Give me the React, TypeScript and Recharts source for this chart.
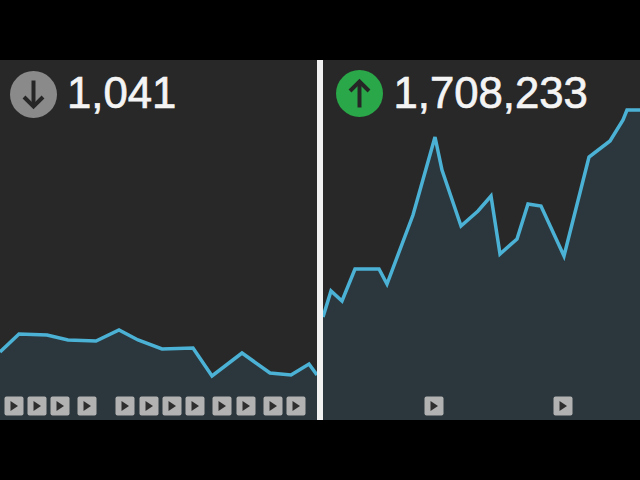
import React from "react";
import { ComposedChart, Area, Scatter, XAxis, YAxis } from "recharts";

const leftDays = [0, 19, 47, 68, 96, 119, 138, 162, 193, 212, 242, 270, 291, 309, 317];
const leftViews = [68, 86, 85, 80, 79, 90, 80, 71, 72, 44, 67, 47, 45, 56, 45];
const leftVideoDays = [14, 37, 60, 87, 125, 149, 172, 195, 222, 246, 273, 296];

const rightDays = [323, 331, 342, 355, 379, 387, 413, 435, 442, 461, 478, 491, 500, 517, 528, 541, 564, 589, 610, 623, 627, 640];
const rightViews = [103, 129, 119, 151, 151, 136, 205, 283, 250, 194, 209, 224, 166, 181, 216, 214, 164, 263, 279, 300, 310, 310];
const rightVideoDays = [434, 563];

const leftTotal = "1,041";
const rightTotal = "1,708,233";

const toRows = (xs: number[], ys: number[]) => xs.map((x, i) => ({ x, y: ys[i] }));
const toVideos = (xs: number[]) => xs.map((x) => ({ x, y: 14 }));

const PlayButton = (props: any) => {
  const { cx, cy } = props;
  return (
    <g>
      <rect x={cx - 9.5} y={cy - 9.5} width={19} height={19} rx={2} fill="#b2b2b2" />
      <path d={`M${cx - 3.5} ${cy - 5}L${cx + 4} ${cy}L${cx - 3.5} ${cy + 5}Z`} fill="#2e2e2e" />
    </g>
  );
};

function Panel({ left, domain, rows, videos }: any) {
  return (
    <div style={{ position: "absolute", left, top: 60, width: 317, height: 360, background: "#282828" }}>
      <ComposedChart width={317} height={360} data={rows} margin={{ top: 0, right: 0, bottom: 0, left: 0 }}>
        <XAxis type="number" dataKey="x" domain={domain} hide allowDataOverflow />
        <YAxis type="number" domain={[0, 360]} hide />
        <Area
          type="linear"
          dataKey="y"
          stroke="#4bb2d6"
          strokeWidth={3.5}
          fill="#2c373d"
          fillOpacity={1}
          dot={false}
          activeDot={false}
          isAnimationActive={false}
        />
        <Scatter data={videos} dataKey="y" shape={PlayButton} isAnimationActive={false} />
      </ComposedChart>
    </div>
  );
}

function Badge({ cx, cy, fill, up }: any) {
  const r = 23.5;
  return (
    <svg style={{ position: "absolute", left: cx - r, top: cy - r }} width={r * 2} height={r * 2}>
      <circle cx={r} cy={r} r={r} fill={fill} />
      <g transform={`translate(${r} ${r}) ${up ? "" : "rotate(180)"}`} stroke="#262626" strokeWidth={4} fill="none">
        <path d="M0 14V-12" />
        <path d="M-9.5 -2.5L0 -12L9.5 -2.5" />
      </g>
    </svg>
  );
}

const labelStyle: React.CSSProperties = {
  position: "absolute",
  top: 65,
  fontFamily: "'Liberation Sans', Arial, sans-serif",
  fontSize: 43.7,
  lineHeight: "56px",
  color: "#f4f4f4",
  whiteSpace: "nowrap",
  WebkitTextStroke: "0.7px #f4f4f4",
};

export default function App() {
  return (
    <div style={{ position: "fixed", left: 0, top: 0, width: 640, height: 480, background: "#000", overflow: "hidden" }}>
      <Panel left={0} domain={[0, 317]} rows={toRows(leftDays, leftViews)} videos={toVideos(leftVideoDays)} />
      <Panel left={323} domain={[323, 640]} rows={toRows(rightDays, rightViews)} videos={toVideos(rightVideoDays)} />
      <div style={{ position: "absolute", left: 317, top: 60, width: 6, height: 360, background: "#f1f1f1" }} />
      <Badge cx={33.5} cy={94.5} fill="#8a8a8a" up={false} />
      <Badge cx={359.5} cy={93.5} fill="#2aa748" up />
      <div style={{ ...labelStyle, left: 67 }}>{leftTotal}</div>
      <div style={{ ...labelStyle, left: 393.5 }}>{rightTotal}</div>
    </div>
  );
}
